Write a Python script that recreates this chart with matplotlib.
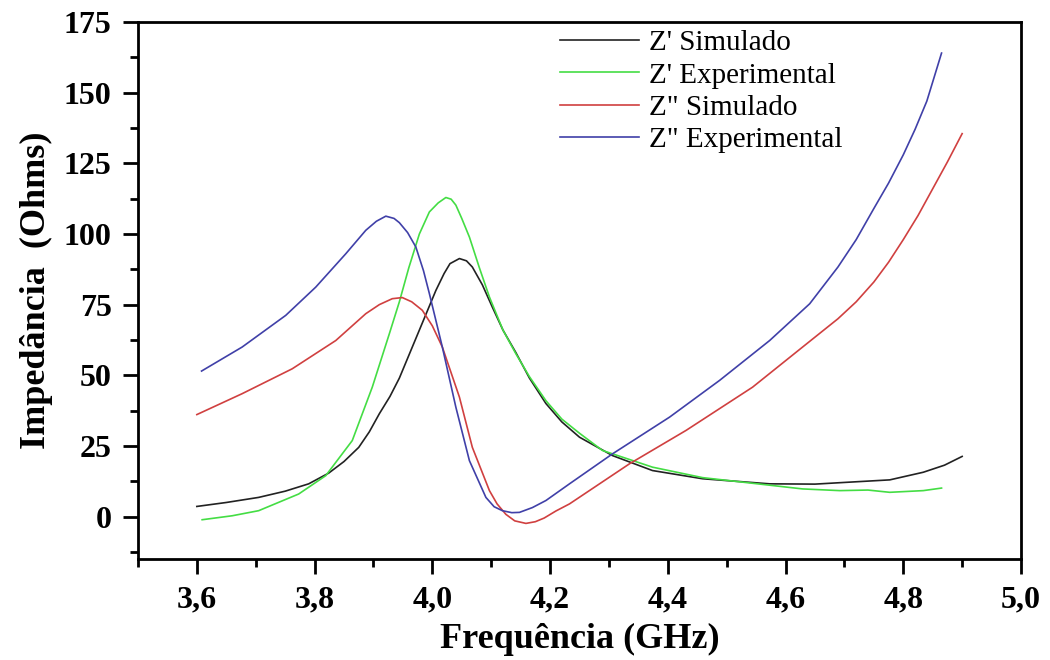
import matplotlib
matplotlib.use('Agg')
import matplotlib.pyplot as plt
from matplotlib.ticker import MultipleLocator, FuncFormatter

plt.rcParams['font.family'] = ['Liberation Serif', 'DejaVu Serif']

# Z' Simulado (black)
x_zr_sim = [3.600, 3.650, 3.705, 3.750, 3.790, 3.824, 3.850, 3.875, 3.893, 3.910, 3.928, 3.944,
            3.966, 3.990, 4.006, 4.020, 4.030, 4.046, 4.058, 4.068, 4.085, 4.102, 4.120,
            4.142, 4.165, 4.193, 4.220, 4.250, 4.306, 4.374, 4.459, 4.573, 4.650, 4.692,
            4.777, 4.834, 4.870, 4.900]
y_zr_sim = [3.6, 5.0, 6.8, 9.0, 11.6, 15.4, 19.5, 24.5, 30.0, 36.4, 42.5, 49.0,
            60.0, 72.0, 80.0, 86.0, 89.5, 91.3, 90.5, 88.3, 82.0, 74.1, 66.0,
            58.0, 49.0, 40.0, 33.5, 28.1, 21.6, 16.3, 13.4, 11.6, 11.5, 12.0,
            13.0, 15.7, 18.2, 21.3]

# Z' Experimental (green)
x_zr_exp = [3.609, 3.660, 3.705, 3.773, 3.819, 3.864, 3.898, 3.927, 3.944, 3.960, 3.978, 3.995,
            4.010, 4.023, 4.032, 4.040, 4.050, 4.063, 4.080, 4.097, 4.120, 4.142, 4.165,
            4.193, 4.220, 4.250, 4.289, 4.374, 4.459, 4.544, 4.629, 4.692, 4.740, 4.777,
            4.834, 4.865]
y_zr_exp = [-1.1, 0.3, 2.1, 8.0, 14.5, 26.9, 45.8, 64.7, 76.0, 88.0, 100.0, 107.8,
            111.0, 112.9, 112.3, 110.2, 105.5, 98.9, 88.0, 77.7, 66.0, 57.6, 49.5,
            41.0, 34.5, 29.5, 23.4, 17.5, 13.8, 11.8, 9.8, 9.2, 9.4, 8.6,
            9.2, 10.1]

# Z" Simulado (red)
x_zi_sim = [3.600, 3.677, 3.762, 3.836, 3.887, 3.910, 3.932, 3.949, 3.965, 3.983, 4.000, 4.017,
            4.046, 4.068, 4.097, 4.110, 4.125, 4.140, 4.159, 4.175, 4.190, 4.210, 4.233,
            4.335, 4.431, 4.544, 4.629, 4.689, 4.720, 4.750, 4.775, 4.800, 4.825, 4.850,
            4.875, 4.900]
y_zi_sim = [36.1, 43.5, 52.3, 62.3, 71.8, 75.0, 77.1, 77.5, 76.0, 73.0, 67.5, 60.0,
            42.3, 24.5, 9.2, 4.5, 0.8, -1.5, -2.4, -1.8, -0.5, 2.0, 4.5,
            18.7, 30.5, 45.8, 60.0, 70.0, 76.0, 83.0, 90.0, 98.0, 106.5, 116.0,
            125.5, 135.5]

# Z" Experimental (blue)
x_zi_exp = [3.608, 3.677, 3.751, 3.802, 3.853, 3.887, 3.905, 3.921, 3.935, 3.944, 3.958, 3.972,
            3.985, 3.995, 4.017, 4.040, 4.063, 4.091, 4.105, 4.119, 4.135, 4.148, 4.170,
            4.193, 4.233, 4.306, 4.403, 4.488, 4.573, 4.641, 4.689, 4.720, 4.750, 4.775,
            4.800, 4.820, 4.840, 4.865]
y_zi_exp = [51.5, 60.0, 71.2, 81.2, 93.0, 101.3, 104.5, 106.3, 105.5, 104.0, 100.5, 95.4,
            87.0, 78.9, 60.0, 38.7, 19.8, 6.8, 3.5, 2.1, 1.4, 1.5, 3.2,
            5.7, 11.6, 22.2, 35.2, 48.2, 62.3, 75.3, 88.3, 98.0, 109.0, 118.0,
            128.0, 137.0, 147.0, 164.0]

labels = ["Z' Simulado", "Z' Experimental", 'Z" Simulado', 'Z" Experimental']
colors = ['#222222', '#44dd44', '#d04040', '#4040a8']

fig = plt.figure(figsize=(10.5, 6.6), dpi=100)
ax = fig.add_axes([0.1314, 0.153, 0.841, 0.8137])

series = [(x_zr_sim, y_zr_sim), (x_zr_exp, y_zr_exp), (x_zi_sim, y_zi_sim), (x_zi_exp, y_zi_exp)]
for (xs, ys), lab, c in zip(series, labels, colors):
    ax.plot(xs, ys, color=c, lw=1.2, label=lab)

ax.set_xlim(3.5, 5.0)
ax.set_ylim(-15, 175)
ax.xaxis.set_major_locator(MultipleLocator(0.2))
ax.xaxis.set_minor_locator(MultipleLocator(0.1))
ax.yaxis.set_major_locator(MultipleLocator(25))
ax.yaxis.set_minor_locator(MultipleLocator(12.5))
ax.xaxis.set_major_formatter(FuncFormatter(lambda v, p: f'{v:.1f}'.replace('.', ',')))
ax.yaxis.set_major_formatter(FuncFormatter(lambda v, p: f'{v:.0f}'))

ax.tick_params(which='major', direction='out', length=11, width=2, pad=8, labelsize=23)
ax.tick_params(which='minor', direction='out', length=6, width=2)
for lab in ax.get_xticklabels() + ax.get_yticklabels():
    lab.set_fontweight('bold')
for s in ax.spines.values():
    s.set_linewidth(2)

ax.set_xlabel('Frequência (GHz)', fontsize=26, fontweight='bold', labelpad=6)
ax.set_ylabel('Impedância  (Ohms)', fontsize=26, fontweight='bold', labelpad=8)

ax.legend(loc='upper left', bbox_to_anchor=(560 / 1050, 1 - 30 / 660),
          bbox_transform=fig.transFigure, frameon=False, fontsize=21,
          handlelength=2.7, handletextpad=0.35, labelspacing=0.2, borderpad=0,
          borderaxespad=0)

fig.savefig('out.png', dpi=100)
